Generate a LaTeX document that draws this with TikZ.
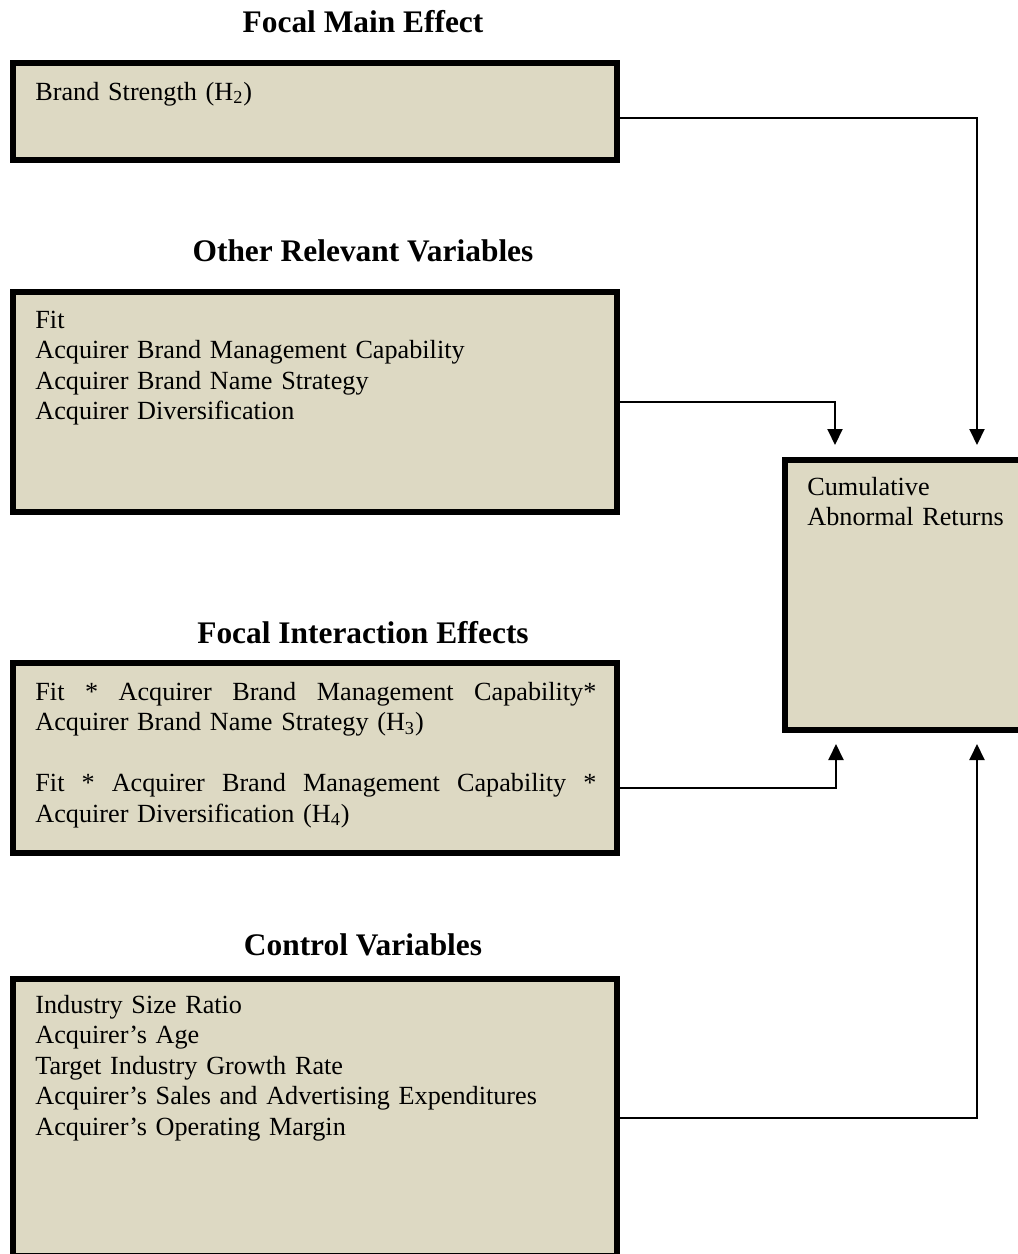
\documentclass[tikz,border=0pt]{standalone}
\usepackage{fontspec}
\setmainfont{Liberation Serif}
\usetikzlibrary{arrows.meta}
\definecolor{boxfill}{RGB}{221,217,195}
\begin{document}
\begin{tikzpicture}[x=0.5pt,y=-0.5pt,
  box/.style={draw=black, line width=3pt, fill=boxfill, inner sep=0pt, outer sep=0pt, anchor=north west},
  heading/.style={font=\fontsize{15.7pt}{18pt}\selectfont\bfseries, anchor=base, inner sep=0pt},
  body/.style={font=\fontsize{13.1pt}{15.25pt}\selectfont, anchor=base west, inner sep=0pt, align=left},
  conn/.style={draw=black, line width=1pt, -{Triangle[width=7.5pt,length=8pt]}}
]
\useasboundingbox (0,0) rectangle (1018,1254);
\clip (0,0) rectangle (1018,1254);

% headings
\node[heading] (h1) at (363,32) {Focal Main Effect};
\node[heading] (h2) at (363,261) {Other Relevant Variables};
\node[heading] (h3) at (363,643) {Focal Interaction Effects};
\node[heading] (h4) at (363,955) {Control Variables};

% boxes
\node[box, minimum width=302.25pt, minimum height=48.5pt] (b1) at (12.5,63) {};
\node[box, minimum width=302.25pt, minimum height=110pt] (b2) at (12.5,292) {};
\node[box, minimum width=302.25pt, minimum height=95pt] (b3) at (12.5,663) {};
\node[box, minimum width=302.25pt, minimum height=138.5pt] (b4) at (12.5,979) {};
\node[box, minimum width=122.5pt, minimum height=135pt] (car) at (785,460) {};

% texts
\node[body, text width=280pt] (t1) at (35,100) {Brand Strength (H\textsubscript{2})};
\node[body, text width=280pt] (t2) at (35,328) {Fit\\Acquirer Brand Management Capability\\Acquirer Brand Name Strategy\\Acquirer Diversification};
\node[body, text width=280.5pt] (t3) at (35,700) {\leavevmode\hbox to \linewidth{Fit\hfill*\hfill Acquirer\hfill Brand\hfill Management\hfill Capability*}\\Acquirer Brand Name Strategy (H\textsubscript{3})\\[15.25pt]\leavevmode\hbox to \linewidth{Fit\hfill*\hfill Acquirer\hfill Brand\hfill Management\hfill Capability\hfill*}\\Acquirer Diversification (H\textsubscript{4})};
\node[body, text width=280pt] (t4) at (35,1013) {Industry Size Ratio\\Acquirer’s Age\\Target Industry Growth Rate\\Acquirer’s Sales and Advertising Expenditures\\Acquirer’s Operating Margin};
\node[body, text width=110pt] (tc) at (807,495) {Cumulative\\Abnormal Returns};

% arrow tips
\coordinate (a1) at (977,445);
\coordinate (a2) at (835,445);
\coordinate (a3) at (836,744);
\coordinate (a4) at (977,744);

% connectors
\draw[conn] ([yshift=-3.25pt]b1.east) -| (a1);
\draw[conn] (b2.east) -| (a2);
\draw[conn] ([yshift=-15pt]b3.east) -| (a3);
\draw[conn] (b4.east) -| (a4);
\end{tikzpicture}
\end{document}
